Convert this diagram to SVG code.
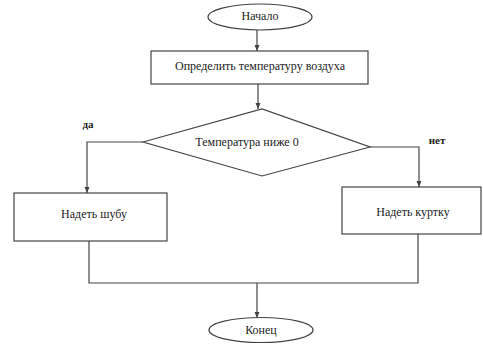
<svg xmlns="http://www.w3.org/2000/svg" width="483" height="344" viewBox="0 0 483 344">
<style>
.s{fill:#fff;stroke:#444;stroke-width:1.2}
.t{font-size:12px;fill:#222;text-anchor:middle;dominant-baseline:middle}
.l{font-size:11px;fill:#222;text-anchor:middle;font-weight:bold}
.c{fill:none;stroke:#444;stroke-width:1.2}
</style>
<defs>
<marker id="a" viewBox="0 0 6 6" refX="6" refY="3" markerWidth="6" markerHeight="6" orient="auto" markerUnits="userSpaceOnUse">
<path d="M0,0.5 L6,3 L0,5.5 z" fill="#444"/>
</marker>
</defs>
<rect width="483" height="344" fill="#fff"/>
<g id="connectors">
<path class="c" d="M257,30 V51" marker-end="url(#a)"/>
<path class="c" d="M258,84 V109" marker-end="url(#a)"/>
<path class="c" d="M143,142 H87 V193" marker-end="url(#a)"/>
<path class="c" d="M370,147 H419 V187" marker-end="url(#a)"/>
<path class="c" d="M89,241 V283 H418 V234"/>
<path class="c" d="M257,283 V318" marker-end="url(#a)"/>
</g>
<g font-family="Liberation Serif, DejaVu Serif, serif">
<g id="start">
<ellipse class="s" cx="260" cy="17" rx="52" ry="13"/>
<text class="t" x="260" y="17">Начало</text>
</g>
<g id="measure">
<rect class="s" x="151" y="51" width="217" height="33"/>
<text class="t" x="260" y="67">Определить температуру воздуха</text>
</g>
<g id="decision">
<polygon class="s" points="143,142 262,109 370,147 262,176"/>
<text class="t" x="247" y="143">Температура ниже 0</text>
</g>
<g id="yes-label"><text class="l" x="88" y="128">да</text></g>
<g id="no-label"><text class="l" x="437" y="144">нет</text></g>
<g id="coat">
<rect class="s" x="14" y="193" width="153" height="48"/>
<text class="t" x="94" y="215">Надеть шубу</text>
</g>
<g id="jacket">
<rect class="s" x="342" y="187" width="139" height="47"/>
<text class="t" x="413" y="213">Надеть куртку</text>
</g>
<g id="end">
<ellipse class="s" cx="261" cy="330" rx="52" ry="12.5"/>
<text class="t" x="261" y="331">Конец</text>
</g>
</g>
</svg>
